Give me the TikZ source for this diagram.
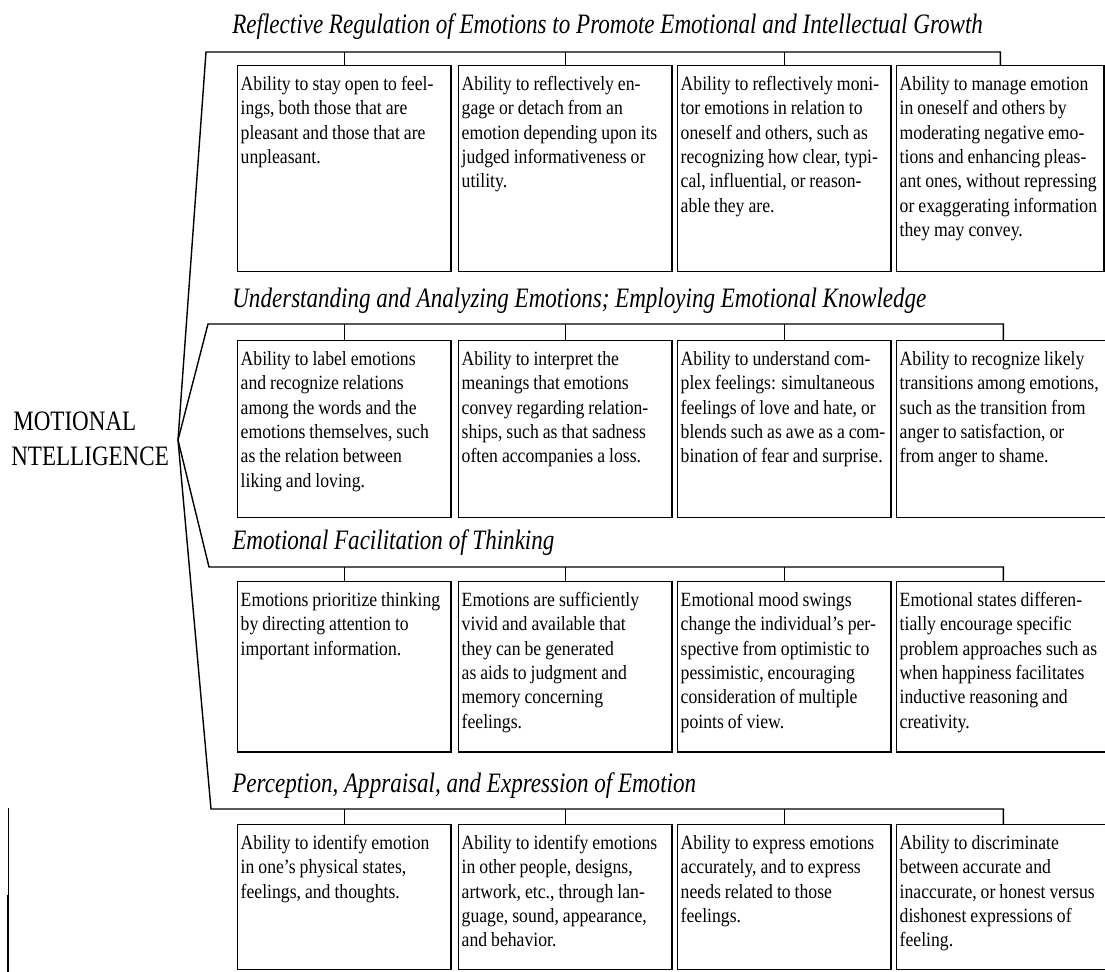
\documentclass[tikz,border=0pt]{standalone}
\usepackage{fontspec}
\setmainfont{Liberation Serif}[FakeStretch=0.875, WordSpace=0.9]
\newfontfamily\titlefont{Liberation Serif}[FakeStretch=0.82]
\usepackage{tikz}

\tikzset{
  ability/.style={draw, line width=0.8pt, anchor=north west, align=flush left,
    text width=4.15cm, inner xsep=0.06cm, inner ysep=3pt, text height=11pt,
    font=\fontsize{11.5}{13.9}\selectfont},
  rowone/.style={ability, text depth=100pt},
  rowtwo/.style={ability, text depth=83.5pt},
  rowthree/.style={ability, text depth=80pt},
  rowfour/.style={ability, text depth=65.5pt},
  level/.style={anchor=base west, inner sep=0pt, font=\titlefont\itshape\fontsize{16}{18}\selectfont},
  bracket/.style={line width=0.8pt}
}

\begin{document}
\begin{tikzpicture}[x=0.02cm, y=-0.02cm]
  \useasboundingbox (0,0) rectangle (1105,972);

  \node[anchor=west, inner sep=0pt, font=\titlefont\fontsize{16}{18}\selectfont] (ei1) at (13,421) {MOTIONAL};
  \node[anchor=west, inner sep=0pt, font=\titlefont\fontsize{16}{18}\selectfont] (ei2) at (11,456) {NTELLIGENCE};
  \coordinate (apex) at (178,440);

  \node[level] (t1) at (232,34) {Reflective Regulation of Emotions to Promote Emotional and Intellectual Growth};
  \node[rowone] (b11) at (237,65) {Ability to stay open to feel-\\ings, both those that are\\pleasant and those that are\\unpleasant.};
  \node[rowone] (b12) at (458,65) {Ability to reflectively en-\\gage or detach from an\\emotion depending upon its\\judged informativeness or\\utility.};
  \node[rowone] (b13) at (677,65) {Ability to reflectively moni-\\tor emotions in relation to\\oneself and others, such as\\recognizing how clear, typi-\\cal, influential, or reason-\\able they are.};
  \node[rowone, text width=4.03cm] (b14) at (896,65) {Ability to manage emotion\\in oneself and others by\\moderating negative emo-\\tions and enhancing pleas-\\ant ones, without repressing\\or exaggerating information\\they may convey.};
  \coordinate (k1) at (206,52);
  \draw[bracket] (apex) -- (k1) -- (k1 -| b14.north) -- (b14.north);
  \draw[bracket] (b11.north) -- (b11.north |- k1);
  \draw[bracket] (b12.north) -- (b12.north |- k1);
  \draw[bracket] (b13.north) -- (b13.north |- k1);

  \node[level] (t2) at (232,308) {Understanding and Analyzing Emotions; Employing Emotional Knowledge};
  \node[rowtwo] (b21) at (237,340) {Ability to label emotions\\and recognize relations\\among the words and the\\emotions themselves, such\\as the relation between\\liking and loving.};
  \node[rowtwo] (b22) at (458,340) {Ability to interpret the\\meanings that emotions\\convey regarding relation-\\ships, such as that sadness\\often accompanies a loss.};
  \node[rowtwo] (b23) at (677,340) {Ability to understand com-\\plex feelings: simultaneous\\feelings of love and hate, or\\blends such as awe as a com-\\bination of fear and surprise.};
  \node[rowtwo] (b24) at (896,340) {Ability to recognize likely\\transitions among emotions,\\such as the transition from\\anger to satisfaction, or\\from anger to shame.};
  \coordinate (k2) at (208,324);
  \draw[bracket] (apex) -- (k2) -- (k2 -| b24.north) -- (b24.north);
  \draw[bracket] (b21.north) -- (b21.north |- k2);
  \draw[bracket] (b22.north) -- (b22.north |- k2);
  \draw[bracket] (b23.north) -- (b23.north |- k2);

  \node[level] (t3) at (232,550) {Emotional Facilitation of Thinking};
  \node[rowthree] (b31) at (237,581) {Emotions prioritize thinking\\by directing attention to\\important information.};
  \node[rowthree] (b32) at (458,581) {Emotions are sufficiently\\vivid and available that\\they can be generated\\as aids to judgment and\\memory concerning\\feelings.};
  \node[rowthree] (b33) at (677,581) {Emotional mood swings\\change the individual's per-\\spective from optimistic to\\pessimistic, encouraging\\consideration of multiple\\points of view.};
  \node[rowthree] (b34) at (896,581) {Emotional states differen-\\tially encourage specific\\problem approaches such as\\when happiness facilitates\\inductive reasoning and\\creativity.};
  \coordinate (k3) at (209,567);
  \draw[bracket] (apex) -- (k3) -- (k3 -| b34.north) -- (b34.north);
  \draw[bracket] (b31.north) -- (b31.north |- k3);
  \draw[bracket] (b32.north) -- (b32.north |- k3);
  \draw[bracket] (b33.north) -- (b33.north |- k3);

  \node[level] (t4) at (232,792) {Perception, Appraisal, and Expression of Emotion};
  \node[rowfour] (b41) at (237,824) {Ability to identify emotion\\in one's physical states,\\feelings, and thoughts.};
  \node[rowfour] (b42) at (458,824) {Ability to identify emotions\\in other people, designs,\\artwork, etc., through lan-\\guage, sound, appearance,\\and behavior.};
  \node[rowfour] (b43) at (677,824) {Ability to express emotions\\accurately, and to express\\needs related to those\\feelings.};
  \node[rowfour] (b44) at (896,824) {Ability to discriminate\\between accurate and\\inaccurate, or honest versus\\dishonest expressions of\\feeling.};
  \coordinate (k4) at (211,809);
  \draw[bracket] (apex) -- (k4) -- (k4 -| b44.north) -- (b44.north);
  \draw[bracket] (b41.north) -- (b41.north |- k4);
  \draw[bracket] (b42.north) -- (b42.north |- k4);
  \draw[bracket] (b43.north) -- (b43.north |- k4);

  \draw[line width=0.5pt] (8,808) -- (8,972);
  \draw[line width=1.6pt] (8,895) -- (8,972);
\end{tikzpicture}
\end{document}
